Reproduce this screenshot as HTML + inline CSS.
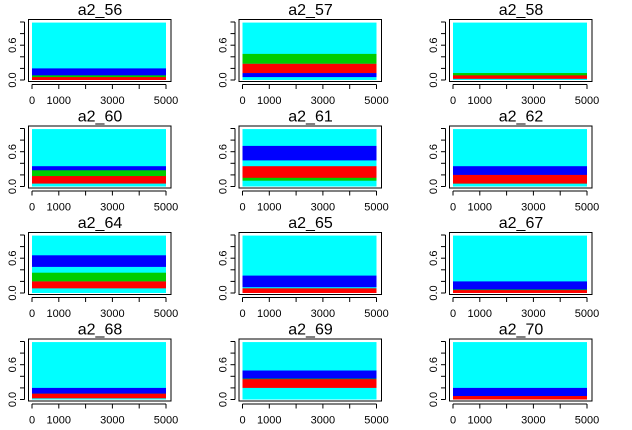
<!DOCTYPE html>
<html><head><meta charset="utf-8"><style>
body{margin:0;background:#fff;}
svg{display:block;font-family:"Liberation Sans",Arial,sans-serif;}
</style></head><body>
<svg id="c" width="632" height="430"></svg>
<script>
const titles=["a2_56","a2_57","a2_58","a2_60","a2_61","a2_62","a2_64","a2_65","a2_67","a2_68","a2_69","a2_70"];
const cyanBands=[[0,0.99],[0,0.99],[0,0.99],[0,0.99],[0,0.99],[0,0.99],[0,0.99],[0,0.99],[0,0.99],[0,0.99],[0,0.99],[0,0.99]];
const blueBands=[[0.05,0.2],[0.05,0.12],[0.03,0.08],[0.2,0.35],[0.45,0.7],[0.15,0.35],[0.45,0.65],[0.1,0.3],[0.05,0.2],[0.05,0.2],[0.35,0.5],[0.05,0.2]];
const greenBands=[[0.04,0.08],[0.28,0.45],[0.05,0.12],[0.15,0.28],[0.1,0.2],[0.05,0.15],[0.2,0.35],[0.02,0.08],[0.02,0.06],[0.03,0.1],[0.25,0.36],[0.02,0.06]];
const redBands=[[0,0.05],[0.12,0.28],[0.02,0.08],[0.05,0.18],[0.15,0.35],[0.05,0.2],[0.08,0.2],[0,0.08],[0,0.05],[0.02,0.1],[0.2,0.35],[0,0.06]];
const xTicks=[0,1000,2000,3000,4000,5000];
const xLabels=["0","1000","","3000","","5000"];
const yTicks=[0,0.2,0.4,0.6,0.8,1.0];
const yLabels=["0.0","","","0.6","",""];
const NS="http://www.w3.org/2000/svg";
const svg=document.getElementById('c');
function mk(t,a,p){const e=document.createElementNS(NS,t);for(const k in a)e.setAttribute(k,a[k]);(p||svg).appendChild(e);return e;}
titles.forEach((t,i)=>{
  const col=i%3,row=Math.floor(i/3);
  const ox=col*210.5,oy=row*106.5;
  const xs=v=>ox+32+v/5000*134;
  const ys=v=>oy+80-v*58;
  const g=mk('g',{});
  
  
  const band=(b,c,n)=>{const r=mk('rect',{x:xs(0),y:ys(b[1]),width:xs(5000)-xs(0),height:ys(b[0])-ys(b[1]),fill:c},g);
    };
  band(cyanBands[i],'#00ffff','cyan-trace');
  band(blueBands[i],'#0000ff','blue-trace');
  band(greenBands[i],'#00cd00','green-trace');
  band(redBands[i],'#ff0000','red-trace');
  const box=mk('rect',{x:ox+28.5,y:oy+19.5,width:142.5,height:62,fill:'none',stroke:'#000','stroke-width':1},g);
  
  const tt=mk('text',{x:ox+100,y:oy+15,'text-anchor':'middle','font-size':16},g);tt.textContent=t;
  
  mk('line',{x1:xs(0),x2:xs(5000),y1:oy+84.5,y2:oy+84.5,stroke:'#000'},g);
  xTicks.forEach((v,k)=>{mk('line',{x1:xs(v),x2:xs(v),y1:oy+84.5,y2:oy+89,stroke:'#000'},g);
    if(xLabels[k]){const l=mk('text',{x:xs(v),y:oy+104,'text-anchor':'middle','font-size':11},g);l.textContent=xLabels[k];
    }});
  mk('line',{x1:ox+24.5,x2:ox+24.5,y1:ys(0),y2:ys(1),stroke:'#000'},g);
  yTicks.forEach((v,k)=>{mk('line',{x1:ox+20,x2:ox+24.5,y1:ys(v),y2:ys(v),stroke:'#000'},g);
    if(yLabels[k]){const l=mk('text',{x:0,y:0,'text-anchor':'middle','font-size':11,transform:`translate(${ox+16},${ys(v)}) rotate(-90)`},g);l.textContent=yLabels[k];
    }});
});
</script>
</body></html>
